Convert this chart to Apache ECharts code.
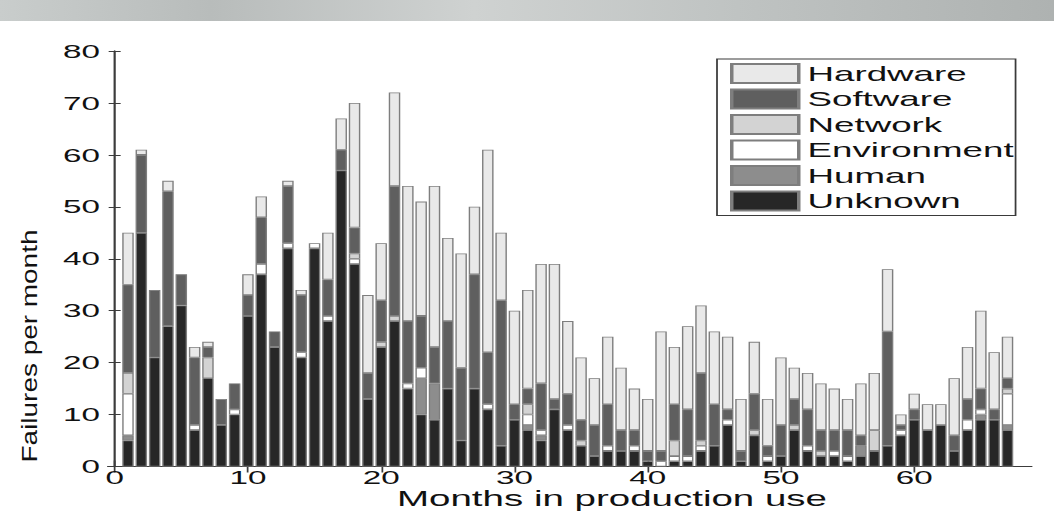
<!DOCTYPE html>
<html>
<head>
<meta charset="utf-8">
<script src="https://cdn.jsdelivr.net/npm/echarts@6/dist/echarts.min.js"></script>
<style>
  html, body { margin: 0; padding: 0; background: #fff; width: 1054px; height: 514px; overflow: hidden; }
  #band { position: absolute; left: 0; top: 0; width: 1054px; height: 21px;
          background: linear-gradient(90deg, #c9cdcc 0%, #b8bcbb 20%, #cfd2d1 45%, #bfc3c2 70%, #aeb2b1 100%); }
  /* The figure is drawn narrow and stretched sideways, like the printed plot */
  #chart { position: absolute; left: 0; top: 0; width: 602.3px; height: 514px;
           transform: scaleX(1.75); transform-origin: 0 0; }
</style>
</head>
<body>
<div id="band"></div>
<div id="chart"></div>
<script>
// Months in production use
const months = [1, 2, 3, 4, 5, 6, 7, 8, 9, 10, 11, 12, 13, 14, 15, 16, 17, 18, 19, 20,
  21, 22, 23, 24, 25, 26, 27, 28, 29, 30, 31, 32, 33, 34, 35, 36, 37, 38, 39, 40,
  41, 42, 43, 44, 45, 46, 47, 48, 49, 50, 51, 52, 53, 54, 55, 56, 57, 58, 59, 60,
  61, 62, 63, 64, 65, 66, 67];

// Failures per month by root cause (stacked bottom to top)
const unknown = [5, 45, 21, 27, 31, 7, 17, 8, 10, 29, 37, 23, 42, 21, 42, 28, 57, 39, 13, 23,
  28, 15, 10, 9, 15, 5, 15, 11, 4, 9, 7, 5, 11, 7, 4, 2, 3, 3, 3, 1,
  0, 1, 1, 3, 4, 8, 1, 6, 1, 2, 7, 3, 2, 2, 1, 2, 3, 4, 6, 9,
  7, 8, 3, 7, 9, 9, 7];
const human = [1, 0, 0, 0, 0, 0, 0, 0, 0, 0, 0, 0, 0, 0, 0, 0, 0, 0, 0, 0,
  0, 0, 7, 7, 0, 0, 0, 0, 0, 0, 1, 1, 0, 0, 0, 0, 0, 0, 0, 0,
  0, 0, 0, 0, 0, 0, 0, 0, 0, 0, 0, 0, 0, 0, 0, 2, 0, 0, 0, 0,
  0, 0, 0, 0, 1, 0, 1];
const environment = [8, 0, 0, 0, 0, 1, 0, 0, 1, 0, 2, 0, 1, 1, 1, 1, 0, 1, 0, 0,
  0, 1, 2, 0, 0, 0, 0, 1, 0, 0, 2, 1, 0, 1, 0, 0, 1, 0, 1, 0,
  1, 1, 1, 1, 0, 1, 0, 0, 1, 0, 0, 1, 0, 1, 1, 0, 0, 0, 1, 0,
  0, 0, 0, 2, 1, 0, 6];
const network = [4, 0, 0, 0, 0, 0, 4, 0, 0, 0, 0, 0, 0, 0, 0, 0, 0, 1, 0, 1,
  1, 0, 0, 0, 0, 0, 0, 0, 0, 0, 2, 0, 0, 0, 1, 0, 0, 0, 0, 0,
  0, 3, 0, 1, 0, 0, 0, 1, 0, 0, 1, 0, 1, 0, 0, 0, 4, 0, 0, 0,
  0, 0, 0, 0, 0, 0, 1];
const software = [17, 15, 13, 26, 6, 13, 2, 5, 5, 4, 9, 3, 11, 11, 0, 7, 4, 5, 5, 8,
  25, 12, 10, 7, 13, 14, 22, 10, 28, 3, 3, 9, 2, 6, 4, 6, 8, 4, 3, 2,
  2, 7, 9, 13, 8, 2, 2, 7, 2, 6, 5, 7, 4, 4, 5, 2, 0, 22, 1, 2,
  0, 0, 3, 4, 4, 2, 2];
const hardware = [10, 1, 0, 2, 0, 2, 1, 0, 0, 4, 4, 0, 1, 1, 0, 9, 6, 24, 15, 11,
  18, 26, 22, 31, 16, 22, 13, 39, 13, 18, 19, 23, 26, 14, 12, 9, 13, 12, 8, 10,
  23, 11, 16, 13, 14, 14, 10, 10, 9, 13, 6, 7, 9, 8, 6, 10, 11, 12, 2, 3,
  5, 4, 11, 10, 15, 11, 8];

const xTicks = [0, 10, 20, 30, 40, 50, 60];
const legendOrder = ['Hardware', 'Software', 'Network', 'Environment', 'Human', 'Unknown'];

const causes = [
  { name: 'Unknown', values: unknown, color: '#272727' },
  { name: 'Human', values: human, color: '#8d8d8d' },
  { name: 'Environment', values: environment, color: '#ffffff' },
  { name: 'Network', values: network, color: '#d3d3d3' },
  { name: 'Software', values: software, color: '#5f5f5f' },
  { name: 'Hardware', values: hardware, color: '#e9e9e9' }
];

const FONT = '"Liberation Sans", Arial, sans-serif';
const SX = 1.75; // horizontal stretch of the container

// Frame axis range (months) and the pixel extent of the plot box
const X_MIN = -0.5, X_MAX = 68.8;
const BOX_L = 108, BOX_R = 1032, BOX_T = 51, BOX_B = 466.5, PAGE_W = 1054, PAGE_H = 514;
// Bars sit in a second grid whose month bands line up with the frame's value scale
const pxPerMonth = (BOX_R - BOX_L) / (X_MAX - X_MIN);
const barL = BOX_L + (months[0] - 0.5 - X_MIN) * pxPerMonth;
const barR = BOX_L + (months[months.length - 1] + 0.5 - X_MIN) * pxPerMonth;

const chart = echarts.init(document.getElementById('chart'), null, { renderer: 'svg' });

const frameLine = { show: true, lineStyle: { color: '#3c3c3c', width: 1 } };

chart.setOption({
  animation: false,
  backgroundColor: 'transparent',
  grid: [
    { left: BOX_L / SX, right: (PAGE_W - BOX_R) / SX, top: BOX_T, bottom: PAGE_H - BOX_B },
    { left: barL / SX, right: (PAGE_W - barR) / SX, top: BOX_T, bottom: PAGE_H - BOX_B }
  ],
  xAxis: [
    {
      gridIndex: 0, type: 'value', min: X_MIN, max: X_MAX, position: 'bottom',
      axisLine: frameLine,
      axisTick: { show: true, inside: true, length: 6, customValues: xTicks, lineStyle: { color: '#3c3c3c' } },
      axisLabel: { customValues: xTicks, margin: 1, fontFamily: FONT, fontSize: 19, color: '#111' },
      splitLine: { show: false }
    },
    {
      gridIndex: 0, type: 'value', min: X_MIN, max: X_MAX, position: 'top',
      axisLine: frameLine,
      axisTick: { show: true, inside: true, length: 6, customValues: xTicks, lineStyle: { color: '#3c3c3c' } },
      axisLabel: { show: false },
      splitLine: { show: false }
    },
    {
      gridIndex: 1, type: 'category', data: months, boundaryGap: true, show: false
    }
  ],
  yAxis: [
    {
      gridIndex: 0, type: 'value', min: 0, max: 80, interval: 10, position: 'left',
      axisLine: frameLine,
      axisTick: { show: true, inside: true, length: 6 / SX, lineStyle: { color: '#3c3c3c' } },
      axisLabel: { margin: 8 / SX, fontFamily: FONT, fontSize: 19, color: '#111' },
      splitLine: { show: false }
    },
    {
      gridIndex: 0, type: 'value', min: 0, max: 80, interval: 10, position: 'right',
      axisLine: frameLine,
      axisTick: { show: true, inside: true, length: 6 / SX, lineStyle: { color: '#3c3c3c' } },
      axisLabel: { show: false },
      splitLine: { show: false }
    },
    {
      gridIndex: 1, type: 'value', min: 0, max: 80, interval: 10, show: false
    }
  ],
  legend: {
    data: legendOrder,
    orient: 'vertical',
    left: 717 / SX,
    top: 59,
    icon: 'rect',
    itemWidth: 67 / SX,
    itemHeight: 19,
    itemGap: 4.5,
    padding: [4, 1, 4, 13 / SX],
    backgroundColor: '#fff',
    borderColor: '#3a3a3a',
    borderWidth: 1,
    selectedMode: false,
    textStyle: { fontFamily: FONT, fontSize: 21, color: '#111' }
  },
  series: causes.map(c => ({
    name: c.name,
    type: 'bar',
    stack: 'failures',
    xAxisIndex: 2,
    yAxisIndex: 2,
    barWidth: 11.5 / SX,
    itemStyle: { color: c.color, borderColor: '#7e7e7e', borderWidth: 0.8 },
    emphasis: { disabled: true },
    data: c.values.map(v => (v > 0 ? v : '-'))
  })),
  graphic: [
    {
      type: 'text',
      x: 29 / SX, y: 346,
      rotation: Math.PI / 2,
      scaleX: 2.15,
      style: { text: 'Failures per month', font: '13px ' + FONT, fill: '#111',
               textAlign: 'center', textVerticalAlign: 'middle' }
    },
    {
      type: 'text',
      x: 612 / SX, y: 499,
      style: { text: 'Months in production use', font: '22px ' + FONT, fill: '#111',
               textAlign: 'center', textVerticalAlign: 'middle' }
    }
  ]
});
</script>
</body>
</html>
